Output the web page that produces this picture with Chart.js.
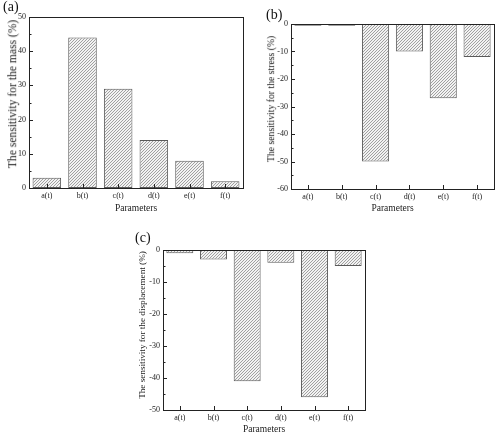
<!DOCTYPE html>
<html>
<head>
<meta charset="utf-8">
<script src="https://cdn.jsdelivr.net/npm/chart.js@4.4.0/dist/chart.umd.min.js"></script>
<style>
    body { margin: 0; background: #fff; }
    #page { position: relative; width: 500px; height: 436px; overflow: hidden; font-family: "Liberation Serif", serif; color: #222; }
    .box { position: absolute; }
    .tag { position: absolute; font-size: 14px; line-height: 14px; color: #111; }
    .ytitle { position: absolute; white-space: nowrap; transform: translate(-50%, -50%) rotate(-90deg); line-height: 1; }
</style>
</head>
<body>
<div id="page">
    <div class="box" style="left:0px; top:0px; width:250px; height:215px;"><canvas id="chartMass"></canvas></div>
    <div class="box" style="left:250px; top:0px; width:250px; height:215px;"><canvas id="chartStress"></canvas></div>
    <div class="box" style="left:120px; top:222px; width:260px; height:214px;"><canvas id="chartDisp"></canvas></div>
    <div class="tag" style="left:3px; top:0px;">(a)</div>
    <div class="tag" style="left:266px; top:8px;">(b)</div>
    <div class="tag" style="left:135px; top:231px;">(c)</div>
    <div class="ytitle" style="left:13px; top:94px; font-size:11.6px;">The sensitivity for the mass (%)</div>
    <div class="ytitle" style="left:271px; top:99px; font-size:9.7px;">The sensitivity for the stress (%)</div>
    <div class="ytitle" style="left:143px; top:325px; font-size:9.2px;">The sensitivity for the displacement (%)</div>
</div>
<script>
// DATA
const categories = ['a(t)', 'b(t)', 'c(t)', 'd(t)', 'e(t)', 'f(t)'];
const massValues = [3, 44, 29, 14, 8, 2];
const stressValues = [-0.6, -0.6, -50, -10, -27, -12];
const dispValues = [-1, -3, -41, -4, -46, -5];
// DATA

// HATCH PATTERN FOR THE BARS
    function hatchPattern(){
        const c = document.createElement('canvas');
        c.width = 3; c.height = 3;
        const g = c.getContext('2d');
        g.fillStyle = '#f2f2f2';
        g.fillRect(0, 0, 3, 3);
        g.strokeStyle = '#8a8a8a';
        g.lineWidth = 0.8;
        g.beginPath();
        g.moveTo(-1, 4); g.lineTo(4, -1);
        g.stroke();
        return g.createPattern(c, 'repeat');
    }
// HATCH PATTERN FOR THE BARS

// INWARD TICKS AND FRAME
    const frameTicks = {
        id: 'frameTicks',
        afterDatasetsDraw(chart){
            const ctx = chart.ctx;
            const a = chart.chartArea;
            const y = chart.scales.y;
            const x = chart.scales.x;
            ctx.save();
            ctx.strokeStyle = '#222';
            ctx.lineWidth = 1;
            ctx.beginPath();
            y.ticks.forEach(function(t, i){
                const p = Math.round(y.getPixelForValue(t.value)) + 0.5;
                ctx.moveTo(a.left, p); ctx.lineTo(a.left + 4, p);
                if(i < y.ticks.length - 1){
                    const m = Math.round(y.getPixelForValue((t.value + y.ticks[i + 1].value) / 2)) + 0.5;
                    ctx.moveTo(a.left, m); ctx.lineTo(a.left + 2.5, m);
                }
            });
            categories.forEach(function(c, i){
                const p = Math.round(x.getPixelForValue(i)) + 0.5;
                ctx.moveTo(p, a.bottom); ctx.lineTo(p, a.bottom - 4);
            });
            ctx.stroke();
            ctx.strokeRect(Math.round(a.left) + 0.5, Math.round(a.top) + 0.5, Math.round(a.right - a.left), Math.round(a.bottom - a.top));
            ctx.restore();
        }
    };
// INWARD TICKS AND FRAME

// ONE PANEL
    function panel(id, values, yMin, yMax, pad, yWidth, xHeight){
        const ctx = document.getElementById(id).getContext('2d');
        return new Chart(ctx, {
            type: 'bar',
            data: {
                labels: categories,
                datasets: [{
                    data: values,
                    backgroundColor: hatchPattern(),
                    borderColor: '#5a5a5a',
                    borderWidth: 1,
                    borderSkipped: false,
                    barPercentage: 0.8,
                    categoryPercentage: 1.0
                }]
            },
            options: {
                responsive: true,
                maintainAspectRatio: false,
                animation: false,
                devicePixelRatio: 1,
                layout: { padding: pad },
                plugins: { legend: { display: false }, tooltip: { enabled: false } },
                scales: {
                    x: {
                        grid: { display: false, drawTicks: false },
                        border: { display: false },
                        ticks: { color: '#222', padding: 3, font: { family: 'Liberation Serif', size: 8 } },
                        title: { display: true, text: 'Parameters', color: '#222', padding: { top: 0, bottom: 1 }, font: { family: 'Liberation Serif', size: 9.5 } },
                        afterFit: function(s){ s.height = xHeight; }
                    },
                    y: {
                        min: yMin,
                        max: yMax,
                        grid: { display: false, drawTicks: false },
                        border: { display: false },
                        ticks: { stepSize: 10, color: '#222', padding: 3, font: { family: 'Liberation Serif', size: 8 } },
                        afterFit: function(s){ s.width = yWidth; }
                    }
                }
            },
            plugins: [frameTicks]
        });
    }
// ONE PANEL

panel('chartMass', massValues, 0, 50, { left: 0, top: 17, right: 7, bottom: 0 }, 29, 27);
panel('chartStress', stressValues, -60, 0, { left: 0, top: 24, right: 6, bottom: 0 }, 41, 26);
panel('chartDisp', dispValues, -50, 0, { left: 0, top: 28, right: 15, bottom: 0 }, 43, 26);
</script>
</body>
</html>
